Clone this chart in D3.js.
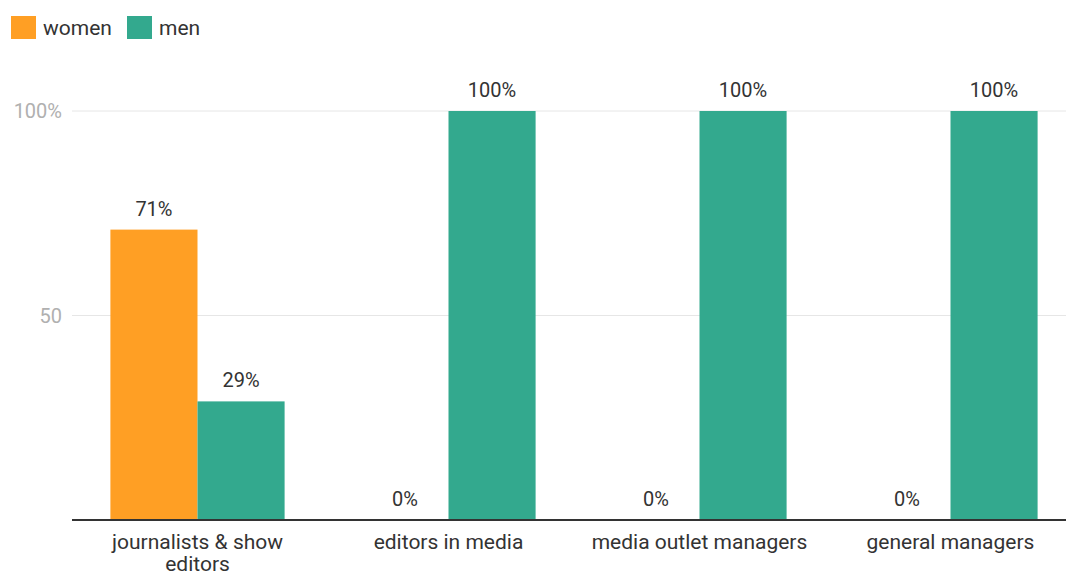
<!DOCTYPE html>
<html>
<head>
<meta charset="utf-8">
<script src="https://cdn.jsdelivr.net/npm/d3@7"></script>
<style>
  body { margin: 0; background: #fff; }
  svg { font-family: Roboto, "Noto Sans", sans-serif; }
</style>
</head>
<body>
<svg width="1066" height="572"></svg>
<script>
let categories = ["journalists & show editors", "editors in media", "media outlet managers", "general managers"];
let series = ["women", "men"];
let women = [71, 0, 0, 0];
let men = [29, 100, 100, 100];
let yTicks = [50, 100];
let colors = { women: "#ff9f24", men: "#33a98e" };

let svg = d3.select("svg");
let plotLeft = 72, plotRight = 1076, plotTop = 111, plotBottom = 520;

let x = d3.scaleBand().domain(categories).range([plotLeft, plotRight]).paddingInner(0.306).paddingOuter(0.153);
let xs = d3.scaleBand().domain(series).range([0, x.bandwidth()]);
let y = d3.scaleLinear().domain([0, 100]).range([plotBottom, plotTop]);

// gridlines + tick labels
svg.selectAll(".grid")
    .data(yTicks)
    .join("line")
    .attr("x1", plotLeft).attr("x2", 1066)
    .attr("y1", d => y(d)).attr("y2", d => y(d))
    .attr("stroke", "#e6e6e6").attr("stroke-width", 1);

svg.selectAll(".ytick")
    .data(yTicks)
    .join("text")
    .attr("x", 62).attr("y", d => y(d) + 7)
    .attr("text-anchor", "end")
    .attr("font-size", 20)
    .attr("fill", "#b0b0b0")
    .text(d => d === 100 ? "100%" : d);

let rows = [];
categories.forEach(function (c, i) {
    rows.push({ cat: c, s: "women", v: women[i] });
    rows.push({ cat: c, s: "men", v: men[i] });
});

svg.selectAll(".bar")
    .data(rows.filter(d => d.v > 0))
    .join("rect")
    .attr("x", d => x(d.cat) + xs(d.s))
    .attr("y", d => y(d.v))
    .attr("width", xs.bandwidth())
    .attr("height", d => y(0) - y(d.v))
    .attr("fill", d => colors[d.s]);

svg.selectAll(".val")
    .data(rows)
    .join("text")
    .attr("x", d => x(d.cat) + xs(d.s) + xs.bandwidth() / 2)
    .attr("y", d => y(d.v) - 14)
    .attr("text-anchor", "middle")
    .attr("font-size", 20)
    .attr("fill", "#333")
    .text(d => d.v + "%");

// baseline
svg.append("line")
    .attr("x1", plotLeft).attr("x2", 1066)
    .attr("y1", y(0)).attr("y2", y(0))
    .attr("stroke", "#333").attr("stroke-width", 2);

// category labels (wrapped)
let wraps = { "journalists & show editors": ["journalists & show", "editors"] };
let xl = svg.selectAll(".xlab")
    .data(categories)
    .join("text")
    .attr("x", d => x(d) + x.bandwidth() / 2)
    .attr("y", 549)
    .attr("text-anchor", "middle")
    .attr("font-size", 21)
    .attr("fill", "#333");
xl.each(function (d) {
    let lines = wraps[d] || [d];
    d3.select(this).selectAll("tspan")
        .data(lines)
        .join("tspan")
        .attr("x", x(d) + x.bandwidth() / 2)
        .attr("dy", (l, i) => i === 0 ? 0 : 22)
        .text(l => l);
});

// legend
let lg = svg.append("g");
let lx = [11, 127];
series.forEach(function (s, i) {
    lg.append("rect").attr("x", lx[i]).attr("y", 16).attr("width", 25).attr("height", 23).attr("fill", colors[s]);
    lg.append("text").attr("x", lx[i] + 32).attr("y", 35).attr("font-size", 21).attr("fill", "#333").text(s);
});
</script>
</body>
</html>
